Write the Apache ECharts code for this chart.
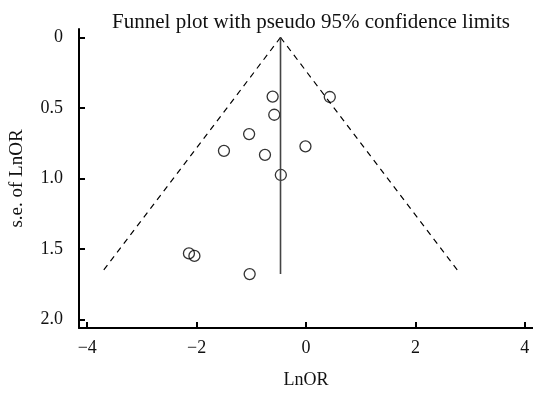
<!DOCTYPE html>
<html>
<head>
<meta charset="utf-8">
<script src="https://cdn.jsdelivr.net/npm/echarts@6/dist/echarts.min.js"></script>
<style>
html,body{margin:0;padding:0;background:#fff;}
#chart{width:533px;height:394px;}
</style>
</head>
<body>
<div id="chart"></div>
<script>
// Study estimates
var lnOR = [-0.61, 0.435, -0.58, -1.04, -1.50, -0.75, -0.01, -0.46, -2.14, -2.04, -1.03];
var seLnOR = [0.419, 0.422, 0.548, 0.685, 0.804, 0.832, 0.772, 0.975, 1.531, 1.549, 1.678];
// Pooled estimate and funnel extent
var pooledLnOR = -0.466;
var funnelSE = [0, 1.677];
var zCrit = 1.96;
// Tick values
var xTicks = [-4, -2, 0, 2, 4];
var yTicks = [0, 0.5, 1.0, 1.5, 2.0];
var titleText = 'Funnel plot with pseudo 95% confidence limits';
var xName = 'LnOR';
var yName = 's.e. of LnOR';

var points = lnOR.map(function (v, i) { return [v, seLnOR[i]]; });
var leftLimit = funnelSE.map(function (s) { return [pooledLnOR - zCrit * s, s]; });
var rightLimit = funnelSE.map(function (s) { return [pooledLnOR + zCrit * s, s]; });
var centerLine = funnelSE.map(function (s) { return [pooledLnOR, s]; });

var font = "'Liberation Serif', 'DejaVu Serif', serif";
var chart = echarts.init(document.getElementById('chart'), null, {renderer: 'canvas'});
chart.setOption({
  animation: false,
  backgroundColor: '#fff',
  title: {
    text: titleText,
    left: 306, top: 7, textAlign: 'center',
    textStyle: {fontFamily: font, fontSize: 21, fontWeight: 'normal', color: '#111'}
  },
  grid: {left: 79, right: 0, top: 29, bottom: 62, containLabel: false},
  xAxis: {
    type: 'value', min: -4.15, max: 4.15,
    name: xName, nameLocation: 'middle', nameGap: 43,
    nameTextStyle: {fontFamily: font, fontSize: 18, color: '#111'},
    splitLine: {show: false},
    axisLine: {show: true, onZero: false, lineStyle: {color: '#000', width: 2}},
    axisTick: {show: true, inside: true, length: 6, customValues: xTicks, lineStyle: {color: '#000', width: 2}},
    axisLabel: {customValues: xTicks, margin: 11, fontFamily: font, fontSize: 18, color: '#111',
      formatter: function (v) { return v < 0 ? '\u2212' + Math.abs(v) : String(v); }}
  },
  yAxis: {
    type: 'value', min: -0.06, max: 2.06, inverse: true,
    name: yName, nameLocation: 'middle', nameGap: 52, nameRotate: 90,
    nameTextStyle: {fontFamily: font, fontSize: 19, color: '#111'},
    splitLine: {show: false},
    axisLine: {show: true, onZero: false, lineStyle: {color: '#000', width: 2}},
    axisTick: {show: true, inside: true, length: 6, customValues: yTicks, lineStyle: {color: '#000', width: 2}},
    axisLabel: {customValues: yTicks, margin: 16, fontFamily: font, fontSize: 18, color: '#111',
      formatter: function (v) { return v === 0 ? '0' : v.toFixed(1); }}
  },
  series: [
    {type: 'line', data: leftLimit, symbol: 'none', silent: true,
      lineStyle: {color: '#000', width: 1.2, type: [6, 5]}},
    {type: 'line', data: rightLimit, symbol: 'none', silent: true,
      lineStyle: {color: '#000', width: 1.2, type: [6, 5]}},
    {type: 'line', data: centerLine, symbol: 'none', silent: true,
      lineStyle: {color: '#444', width: 1.6}},
    {type: 'scatter', data: points, symbol: 'circle', symbolSize: 11,
      itemStyle: {color: 'rgba(255,255,255,0)', borderColor: '#000', borderWidth: 1.3}}
  ]
});
</script>
</body>
</html>
